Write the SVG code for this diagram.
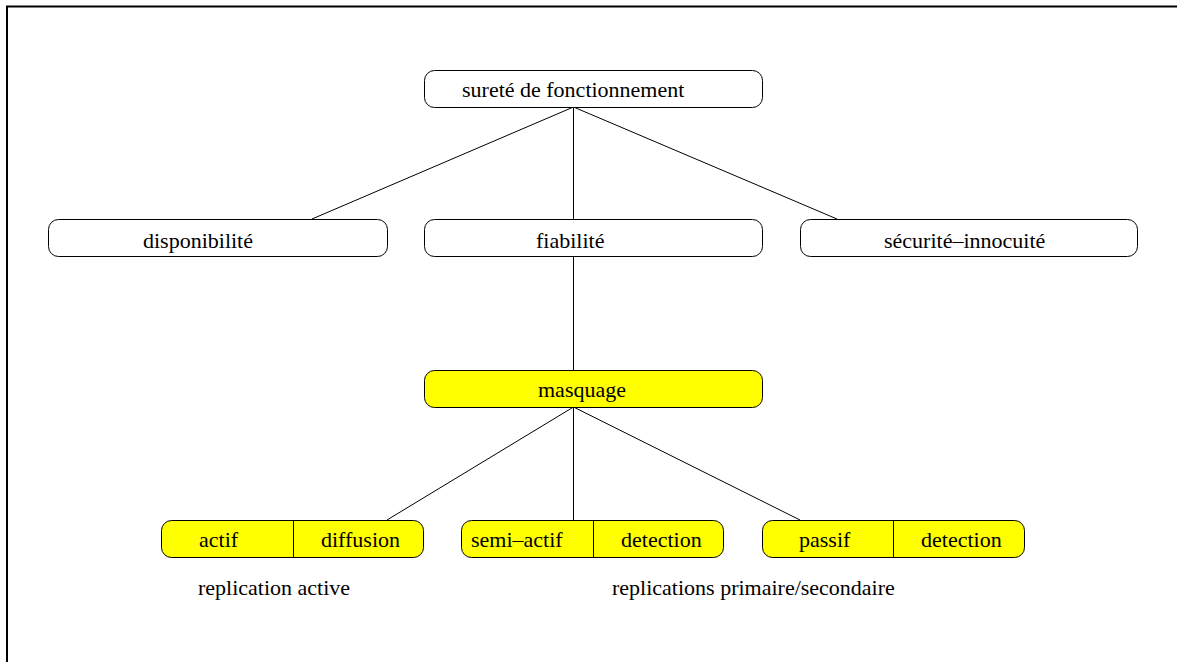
<svg xmlns="http://www.w3.org/2000/svg" width="1177" height="662" viewBox="0 0 1177 662">
  <style>
    .box { fill: #ffffff; stroke: #000000; stroke-width: 1; }
    .hl { fill: #ffff00; stroke: #000000; stroke-width: 1; }
    .div { stroke: #000000; stroke-width: 1; }
    .lbl { font-family: "Liberation Serif", "Times New Roman", serif; font-size: 22px; fill: #000000; }
    .edge { stroke: #000000; stroke-width: 1; fill: none; }
  </style>
  <rect width="1177" height="662" fill="#ffffff"/>
  <!-- page frame -->
  <path d="M7,662 V6.5 H1177" fill="none" stroke="#000000" stroke-width="2"/>

  <g id="connectors">
    <line class="edge" x1="573.5" y1="107" x2="312" y2="219"/>
    <line class="edge" x1="573.5" y1="107" x2="573.5" y2="219"/>
    <line class="edge" x1="573.5" y1="107" x2="837" y2="219"/>
    <line class="edge" x1="573.5" y1="257" x2="573.5" y2="370"/>
    <line class="edge" x1="573.5" y1="407" x2="387" y2="520"/>
    <line class="edge" x1="573.5" y1="407" x2="573.5" y2="520"/>
    <line class="edge" x1="573.5" y1="407" x2="800" y2="520"/>
  </g>

  <g id="surete">
    <rect class="box" x="424.5" y="70.5" width="338" height="37" rx="10"/>
    <text class="lbl" x="462" y="97">sureté de fonctionnement</text>
  </g>
  <g id="disponibilite">
    <rect class="box" x="48.5" y="219.5" width="339" height="37" rx="10"/>
    <text class="lbl" x="143" y="248">disponibilité</text>
  </g>
  <g id="fiabilite">
    <rect class="box" x="424.5" y="219.5" width="338" height="37" rx="10"/>
    <text class="lbl" x="536" y="248">fiabilité</text>
  </g>
  <g id="securite">
    <rect class="box" x="800.5" y="219.5" width="337" height="37" rx="10"/>
    <text class="lbl" x="884" y="248">sécurité–innocuité</text>
  </g>
  <g id="masquage">
    <rect class="hl" x="424.5" y="370.5" width="338" height="37" rx="10"/>
    <text class="lbl" x="538" y="397">masquage</text>
  </g>
  <g id="actif">
    <rect class="hl" x="161.5" y="520.5" width="262" height="37" rx="10"/>
    <line class="div" x1="293.5" y1="520.5" x2="293.5" y2="557.5"/>
    <text class="lbl" x="199" y="547">actif</text>
    <text class="lbl" x="321" y="547">diffusion</text>
  </g>
  <g id="semi-actif">
    <rect class="hl" x="461.5" y="520.5" width="262" height="37" rx="10"/>
    <line class="div" x1="593.5" y1="520.5" x2="593.5" y2="557.5"/>
    <text class="lbl" x="471" y="547">semi–actif</text>
    <text class="lbl" x="621" y="547">detection</text>
  </g>
  <g id="passif">
    <rect class="hl" x="762.5" y="520.5" width="262" height="37" rx="10"/>
    <line class="div" x1="893.5" y1="520.5" x2="893.5" y2="557.5"/>
    <text class="lbl" x="799" y="547">passif</text>
    <text class="lbl" x="921" y="547">detection</text>
  </g>

  <g id="captions">
    <text class="lbl" x="198" y="595">replication active</text>
    <text class="lbl" x="612" y="595">replications primaire/secondaire</text>
  </g>
</svg>
